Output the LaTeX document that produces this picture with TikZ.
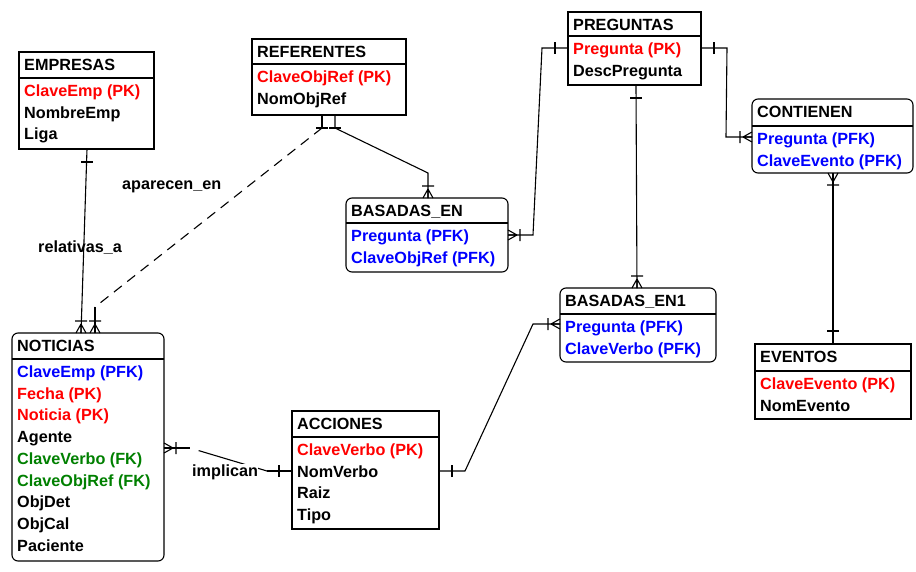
\documentclass[tikz,border=0pt]{standalone}
\usepackage{fontspec}
\setmainfont{Liberation Sans}
\definecolor{ergreen}{RGB}{0,128,0}
\definecolor{erred}{RGB}{255,0,0}
\definecolor{erblue}{RGB}{0,0,255}
\definecolor{erblack}{RGB}{0,0,0}
\tikzset{
  plainbox/.style={draw, line width=1.1pt, fill=white, inner sep=0pt, outer sep=0pt},
  roundbox/.style={plainbox, rounded corners=6pt},
  txt/.style={anchor=base west, inner sep=0pt, font=\bfseries\fontsize{16.2}{19}\selectfont},
  conn/.style={line width=1.1pt},
  dashconn/.style={line width=1.1pt, dash pattern=on 10pt off 7pt},
  crowfoot/.pic={\draw[line width=1.1pt] (9,0) -- (0,5) (9,0) -- (0,0) (9,0) -- (0,-5) (12,6) -- (12,-6);},
  onebar/.pic={\draw[line width=1.1pt] (13,6) -- (13,-6);}
}
% #1 name, #2 style, #3 x, #4 y, #5 w, #6 h, #7 separator y, #8 title, #9 rows
\newcommand\erent[9]{%
  \node[#2, minimum width=#5pt, minimum height=#6pt, anchor=north west] (#1) at (#3,#4) {};
  \draw[line width=1.1pt] (#1.west |- 0,#7) -- (#1.east |- 0,#7);
  \node[txt] (#1-title) at ({#3+5},{#4+18.5}) {#8};
  \foreach \ecol/\etxt [count=\ei] in {#9} {
    \node[txt, text=\ecol] (#1-\ei) at ({#3+5},{#7+18.5+21.7*(\ei-1)}) {\etxt};
  }%
}
\begin{document}
\begin{tikzpicture}[x=1pt, y=-1pt]
\useasboundingbox[fill=white] (0,0) rectangle (916,571);

% entities
\erent{empresas}{plainbox}{19}{52}{135}{97}{78}{EMPRESAS}{erred/ClaveEmp (PK), erblack/NombreEmp, erblack/Liga}
\erent{referentes}{plainbox}{252}{39}{154}{76}{64}{REFERENTES}{erred/ClaveObjRef (PK), erblack/NomObjRef}
\erent{basadasen}{roundbox}{346}{198}{162}{74}{223}{BASADAS\_EN}{erblue/Pregunta (PFK), erblue/ClaveObjRef (PFK)}
\erent{preguntas}{plainbox}{568}{12}{133}{73}{36}{PREGUNTAS}{erred/Pregunta (PK), erblack/DescPregunta}
\erent{contienen}{roundbox}{752}{99}{161}{74}{126}{CONTIENEN}{erblue/Pregunta (PFK), erblue/ClaveEvento (PFK)}
\erent{basadasenuno}{roundbox}{560}{288}{156}{74}{314}{BASADAS\_EN1}{erblue/Pregunta (PFK), erblue/ClaveVerbo (PFK)}
\erent{eventos}{plainbox}{755}{344}{156}{75}{371}{EVENTOS}{erred/ClaveEvento (PK), erblack/NomEvento}
\erent{noticias}{roundbox}{12}{333}{152}{228}{359}{NOTICIAS}{erblue/ClaveEmp (PFK), erred/Fecha (PK), erred/Noticia (PK), erblack/Agente, ergreen/ClaveVerbo (FK), ergreen/ClaveObjRef (FK), erblack/ObjDet, erblack/ObjCal, erblack/Paciente}
\erent{acciones}{plainbox}{292}{411}{147}{118}{437}{ACCIONES}{erred/ClaveVerbo (PK), erblack/NomVerbo, erblack/Raiz, erblack/Tipo}

% relativas_a : EMPRESAS -> NOTICIAS
\draw[conn] (87,0 |- empresas.south) -- (81,0 |- noticias.north);
\pic[rotate=-90] at (87,0 |- empresas.south) {onebar};
\pic[rotate=90] at (81,0 |- noticias.north) {crowfoot};
\node[txt] (relativas) at (38,252) {relativas\_a};

% aparecen_en : REFERENTES -> NOTICIAS (dashed)
\draw[conn] (322,0 |- referentes.south) -- (322,128);
\draw[dashconn] (322,128) -- (95,307);
\draw[conn] (95,307) -- (95,0 |- noticias.north);
\pic[rotate=-90] at (322,0 |- referentes.south) {onebar};
\pic[rotate=90] at (95,0 |- noticias.north) {crowfoot};
\node[txt] (aparecen) at (122,189) {aparecen\_en};

% REFERENTES -> BASADAS_EN
\draw[conn] (335,0 |- referentes.south) -- (335,128) -- (428,173) -- (428,0 |- basadasen.north);
\pic[rotate=-90] at (335,0 |- referentes.south) {onebar};
\pic[rotate=90] at (428,0 |- basadasen.north) {crowfoot};

% PREGUNTAS -> BASADAS_EN
\draw[conn] (preguntas.west |- 0,48) -- (542,48) -- (533,235) -- (basadasen.east |- 0,235);
\pic[rotate=180] at (preguntas.west |- 0,48) {onebar};
\pic[rotate=0] at (basadasen.east |- 0,235) {crowfoot};

% PREGUNTAS -> CONTIENEN
\draw[conn] (preguntas.east |- 0,48) -- (727,48) -- (726,137) -- (contienen.west |- 0,137);
\pic[rotate=0] at (preguntas.east |- 0,48) {onebar};
\pic[rotate=180] at (contienen.west |- 0,137) {crowfoot};

% PREGUNTAS -> BASADAS_EN1
\draw[conn] (636,0 |- preguntas.south) -- (637,0 |- basadasenuno.north);
\pic[rotate=-90] at (636,0 |- preguntas.south) {onebar};
\pic[rotate=90] at (637,0 |- basadasenuno.north) {crowfoot};

% EVENTOS -> CONTIENEN
\draw[conn] (833,0 |- contienen.south) -- (833,0 |- eventos.north);
\pic[rotate=-90] at (833,0 |- contienen.south) {crowfoot};
\pic[rotate=90] at (833,0 |- eventos.north) {onebar};

% ACCIONES -> BASADAS_EN1
\draw[conn] (acciones.east |- 0,471) -- (465,471) -- (533,324) -- (basadasenuno.west |- 0,324);
\pic[rotate=0] at (acciones.east |- 0,471) {onebar};
\pic[rotate=180] at (basadasenuno.west |- 0,324) {crowfoot};

% implican : ACCIONES -> NOTICIAS (dashed)
\draw[conn] (noticias.east |- 0,448) -- (190,448);
\draw[conn, dash pattern=on 0pt off 9pt on 120pt] (190,448) -- (267,471);
\draw[conn] (267,471) -- (acciones.west |- 0,471);
\pic[rotate=0] at (noticias.east |- 0,448) {crowfoot};
\pic[rotate=180] at (acciones.west |- 0,471) {onebar};
\node[txt, fill=white] (implican) at (192,476) {implican};
\end{tikzpicture}
\end{document}
